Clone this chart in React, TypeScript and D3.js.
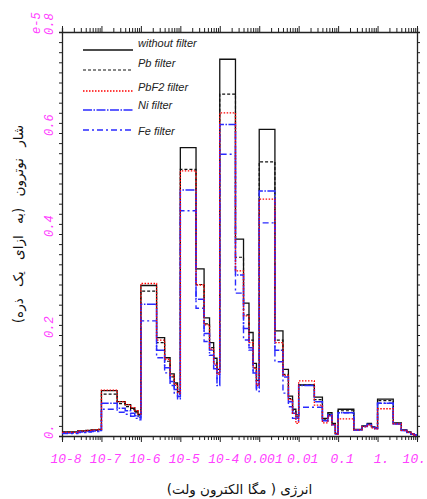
import React, { useEffect, useRef } from "react";
import * as d3 from "d3";

// energy group edges (MeV)
const binEdges = [
  1e-8, 2.5e-8, 4e-8, 5.5e-8, 7e-8, 8.5e-8,
  1e-7, 2.5e-7, 4e-7, 5.5e-7, 7e-7, 8.5e-7,
  1e-6, 2.5e-6, 4e-6, 5.5e-6, 7e-6, 8.5e-6,
  1e-5, 2.5e-5, 4e-5, 5.5e-5, 7e-5, 8.5e-5,
  1e-4, 2.5e-4, 4e-4, 5.5e-4, 7e-4, 8.5e-4,
  1e-3, 2.5e-3, 4e-3, 5.5e-3, 7e-3, 8.5e-3,
  0.01, 0.025, 0.04, 0.055, 0.07, 0.085,
  0.1, 0.25, 0.4, 0.55, 0.7, 0.85,
  1, 2.5, 4, 5.5, 7, 8.5,
  10,
];

// flux values, in units of 1e-5
const withoutFilter = [
  0.008, 0.010, 0.011, 0.012, 0.012, 0.013,
  0.090, 0.068, 0.062, 0.055, 0.049, 0.043,
  0.298, 0.195, 0.155, 0.123, 0.105, 0.088,
  0.571, 0.331, 0.234, 0.185, 0.154, 0.132,
  0.746, 0.390, 0.263, 0.205, 0.144, 0.110,
  0.607, 0.208, 0.132, 0.079, 0.053, 0.042,
  0.101, 0.077, 0.035, 0.046, 0.025, 0.005,
  0.053, 0.013, 0.020, 0.025, 0.018, 0.016,
  0.073, 0.026, 0.012, 0.008, 0.004, 0.002,
];
const pbFilter = [
  0.007, 0.009, 0.010, 0.011, 0.011, 0.012,
  0.083, 0.064, 0.058, 0.052, 0.046, 0.040,
  0.287, 0.185, 0.148, 0.117, 0.100, 0.083,
  0.528, 0.300, 0.222, 0.175, 0.145, 0.125,
  0.677, 0.354, 0.240, 0.190, 0.135, 0.103,
  0.543, 0.190, 0.122, 0.074, 0.050, 0.038,
  0.101, 0.072, 0.032, 0.043, 0.023, 0.005,
  0.050, 0.012, 0.019, 0.024, 0.017, 0.015,
  0.070, 0.025, 0.011, 0.007, 0.004, 0.002,
];
const pbf2Filter = [
  0.007, 0.010, 0.011, 0.012, 0.012, 0.013,
  0.091, 0.068, 0.062, 0.056, 0.050, 0.044,
  0.302, 0.190, 0.152, 0.120, 0.102, 0.085,
  0.525, 0.299, 0.220, 0.172, 0.143, 0.122,
  0.640, 0.327, 0.238, 0.185, 0.135, 0.100,
  0.469, 0.185, 0.120, 0.072, 0.045, 0.025,
  0.109, 0.061, 0.026, 0.040, 0.022, 0.004,
  0.034, 0.012, 0.018, 0.022, 0.016, 0.014,
  0.054, 0.024, 0.011, 0.007, 0.004, 0.002,
];
const niFilter = [
  0.006, 0.008, 0.009, 0.010, 0.010, 0.011,
  0.065, 0.055, 0.050, 0.045, 0.040, 0.036,
  0.261, 0.170, 0.135, 0.108, 0.092, 0.078,
  0.487, 0.271, 0.203, 0.160, 0.133, 0.100,
  0.617, 0.319, 0.213, 0.175, 0.125, 0.095,
  0.485, 0.170, 0.117, 0.068, 0.045, 0.035,
  0.100, 0.068, 0.030, 0.042, 0.022, 0.004,
  0.046, 0.012, 0.019, 0.023, 0.017, 0.015,
  0.065, 0.024, 0.011, 0.007, 0.004, 0.002,
];
const feFilter = [
  0.005, 0.007, 0.008, 0.009, 0.009, 0.010,
  0.053, 0.047, 0.043, 0.039, 0.035, 0.032,
  0.228, 0.155, 0.125, 0.100, 0.085, 0.072,
  0.446, 0.253, 0.187, 0.170, 0.140, 0.114,
  0.558, 0.283, 0.190, 0.170, 0.130, 0.088,
  0.422, 0.147, 0.085, 0.058, 0.035, 0.030,
  0.057, 0.057, 0.030, 0.040, 0.022, 0.004,
  0.046, 0.012, 0.019, 0.023, 0.017, 0.015,
  0.065, 0.024, 0.011, 0.007, 0.004, 0.002,
];

const xTickValues = [1e-8, 1e-7, 1e-6, 1e-5, 1e-4, 1e-3, 0.01, 0.1, 1, 10];
const xTickLabels = ["10-8", "10-7", "10-6", "10-5", "10-4", "0.001", "0.01", "0.1", "1.", "10."];
const yTickValues = [0, 0.2, 0.4, 0.6, 0.8];
const yTickLabels = ["0.", "0.2", "0.4", "0.6", "0.8"];

const series = [
  { name: "without filter", values: withoutFilter, color: "#111", dash: null, width: 1.3 },
  { name: "Pb filter", values: pbFilter, color: "#111", dash: "3,2", width: 1.2 },
  { name: "PbF2 filter", values: pbf2Filter, color: "#ff0000", dash: "1.5,1.5", width: 1.3 },
  { name: "Ni filter", values: niFilter, color: "#2a2aff", dash: "9,1.5,1.5,1.5", width: 1.5 },
  { name: "Fe filter", values: feFilter, color: "#2a2aff", dash: "6,3,2,3", width: 1.4 },
];
const drawOrder = [0, 1, 3, 4, 2];

const App = () => {
  const chartRef = useRef(null);

  useEffect(() => {
    const W = 427;
    const H = 499;
    const left = 62, right = 417, top = 32, bottom = 436;

    d3.select(chartRef.current).select("svg").remove();

    const svg = d3
      .select(chartRef.current)
      .append("svg")
      .attr("width", W)
      .attr("height", H)
      .style("position", "absolute")
      .style("left", "0px")
      .style("top", "0px")
      .style("background", "#fff");

    const x = d3.scaleLog().domain([1e-8, 10]).range([left, right]);
    const y = d3.scaleLinear().domain([0, 0.8]).range([bottom, top]);

    svg
      .append("clipPath")
      .attr("id", "plotclip")
      .append("rect")
      .attr("x", left)
      .attr("y", top)
      .attr("width", right - left)
      .attr("height", bottom - top);

    // log ticks: decades + 2..9
    const logTicks: number[] = [];
    for (let d = -8; d <= 0; d++) {
      for (let k = 1; k <= 9; k++) logTicks.push(+(k * Math.pow(10, d)).toPrecision(3));
    }
    logTicks.push(10);
    const isMajor = (v: number) => Math.abs(Math.log10(v) - Math.round(Math.log10(v))) < 1e-6;

    const axisColor = "#222";

    // bottom axis
    const bottomAxis = d3
      .axisBottom(x)
      .tickValues(logTicks)
      .tickSize(4)
      .tickFormat(() => "");
    const gB = svg.append("g").attr("transform", `translate(0,${bottom})`).call(bottomAxis);
    gB.selectAll("line").attr("y2", (d: any) => (isMajor(d) ? 6 : 4));

    // top axis
    const topAxis = d3
      .axisTop(x)
      .tickValues(logTicks)
      .tickSize(4)
      .tickFormat(() => "");
    const gT = svg.append("g").attr("transform", `translate(0,${top})`).call(topAxis);
    gT.selectAll("line").attr("y2", (d: any) => (isMajor(d) ? -6 : -4));

    // left / right axes, ticks every 0.02
    const yTicks = d3.range(0, 0.8001, 0.02);
    const leftAxis = d3.axisLeft(y).tickValues(yTicks).tickSize(3).tickFormat(() => "");
    svg.append("g").attr("transform", `translate(${left},0)`).call(leftAxis);
    const rightAxis = d3.axisRight(y).tickValues(yTicks).tickSize(3).tickFormat(() => "");
    svg.append("g").attr("transform", `translate(${right},0)`).call(rightAxis);

    svg.selectAll(".domain").attr("stroke", axisColor).attr("stroke-width", 1.3);
    svg.selectAll(".tick line").attr("stroke", axisColor);

    // x tick labels (last one pushed in so it stays on the page)
    svg
      .append("g")
      .selectAll("text")
      .data(xTickValues)
      .enter()
      .append("text")
      .attr("x", (d, i) => (i === xTickValues.length - 1 ? 426 : x(d) + 4))
      .attr("y", 463)
      .attr("text-anchor", (d, i) => (i === xTickValues.length - 1 ? "end" : "middle"))
      .attr("font-family", "'Liberation Mono', 'DejaVu Sans Mono', monospace")
      .attr("font-style", "italic")
      .attr("font-size", 13)
      .attr("fill", "#ff40ff")
      .text((d, i) => xTickLabels[i]);

    // y tick labels (rotated)
    svg
      .append("g")
      .selectAll("text")
      .data(yTickValues)
      .enter()
      .append("text")
      .attr("transform", (d) => `translate(53,${y(d) + 3}) rotate(-90)`)
      .attr("text-anchor", "start")
      .attr("font-family", "'Liberation Mono', 'DejaVu Sans Mono', monospace")
      .attr("font-style", "italic")
      .attr("font-size", 12)
      .attr("fill", "#ff40ff")
      .text((d, i) => yTickLabels[i]);

    svg
      .append("text")
      .attr("transform", `translate(40,34) rotate(-90)`)
      .attr("text-anchor", "start")
      .attr("font-family", "'Liberation Mono', 'DejaVu Sans Mono', monospace")
      .attr("font-style", "italic")
      .attr("font-size", 12)
      .attr("fill", "#ff40ff")
      .text("e-5");

    // histogram step lines
    const plot = svg.append("g").attr("clip-path", "url(#plotclip)");
    const step = d3
      .line<[number, number]>()
      .x((d) => x(d[0]))
      .y((d) => y(d[1]))
      .curve(d3.curveStepAfter);

    drawOrder.forEach((si) => {
      const s = series[si];
      const pts: [number, number][] = s.values.map((v, i) => [binEdges[i], v]);
      pts.push([binEdges[binEdges.length - 1], s.values[s.values.length - 1]]);
      plot
        .append("path")
        .datum(pts)
        .attr("fill", "none")
        .attr("stroke", s.color)
        .attr("stroke-width", s.width)
        .attr("stroke-dasharray", s.dash)
        .attr("d", step);
    });

    // Legend
    const legendY = [50, 70, 91, 110, 130];
    const legendTextY = [47, 67, 91, 109, 135];
    const legend = svg.append("g");
    series.forEach((s, i) => {
      legend
        .append("line")
        .attr("x1", 83)
        .attr("x2", 133)
        .attr("y1", legendY[i])
        .attr("y2", legendY[i])
        .attr("stroke", s.color)
        .attr("stroke-width", s.width)
        .attr("stroke-dasharray", s.dash);
      legend
        .append("text")
        .attr("x", 138)
        .attr("y", legendTextY[i])
        .attr("font-family", "'Liberation Sans', Arial, sans-serif")
        .attr("font-style", "italic")
        .attr("font-size", 11)
        .attr("fill", "#222")
        .text(s.name);
    });

    // axis titles
    svg
      .append("text")
      .attr("x", (left + right) / 2)
      .attr("y", 494)
      .attr("text-anchor", "middle")
      .attr("font-family", "'DejaVu Sans', 'Noto Sans', sans-serif")
      .attr("font-size", 13.5)
      .attr("fill", "#111")
      .text("انرژی ( مگا الکترون ولت)");

    svg
      .append("text")
      .attr("transform", `translate(23,224) rotate(-90)`)
      .attr("text-anchor", "middle")
      .attr("font-family", "'DejaVu Sans', 'Noto Sans', sans-serif")
      .attr("font-size", 13.5)
      .attr("word-spacing", 7)
      .attr("fill", "#111")
      .text("شار نوترون (به ازای یک ذره)");
  }, []);

  return <div ref={chartRef}></div>;
};

export default App;
